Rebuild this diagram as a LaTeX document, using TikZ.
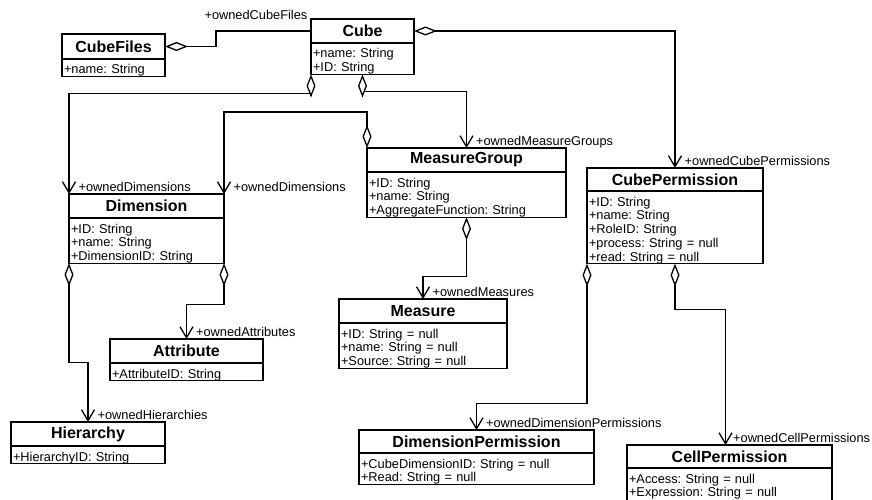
\documentclass[tikz,border=0pt]{standalone}
\usepackage{fontspec}
\setmainfont{Liberation Sans}
\usepackage{tikz}
\usetikzlibrary{positioning}
\usetikzlibrary{arrows.meta}
\frenchspacing

\begin{document}
\begin{tikzpicture}[x=1pt, y=-1pt, line width=1.3pt,
    cls/.style = {draw, rectangle, anchor=north west, inner sep=0pt, outer sep=0pt, minimum height=24pt, font=\fontsize{16}{18}\selectfont\bfseries},
    attrs/.style = {draw, rectangle, inner xsep=2pt, inner ysep=0pt, outer sep=0pt, align=left, text height=15pt, font=\fontsize{12.8}{13.75}\selectfont},
    role/.style = {inner sep=0pt, anchor=base west, xshift=9pt, yshift=3pt, font=\fontsize{12.8}{13.75}\selectfont},
    owns/.style = {{Diamond[fill=white, length=23pt, width=9pt]}-{Straight Barb[length=11pt, width=13pt]}}
    ]
    \useasboundingbox (0,0) rectangle (872,500);

    % classes
    \node[cls, minimum width=103pt, minimum height=25pt] (cubefiles) at (62,34) {CubeFiles};
    \node[attrs, text width=99pt] (cubefiles-a) [below=0pt of cubefiles] {+name: String};

    \node[cls, minimum width=103pt] (cube) at (311,19) {Cube};
    \node[attrs, text width=99pt] (cube-a) [below=0pt of cube] {+name: String\\+ID: String};

    \node[cls, minimum width=199pt] (mgroup) at (367,148) {MeasureGroup};
    \node[attrs, text width=195pt] (mgroup-a) [below=0pt of mgroup] {+ID: String\\+name: String\\+AggregateFunction: String};

    \node[cls, minimum width=176pt, minimum height=23pt] (cubeperm) at (587,168) {CubePermission};
    \node[attrs, text width=172pt] (cubeperm-a) [below=0pt of cubeperm] {+ID: String\\+name: String\\+RoleID: String\\+process: String = null\\+read: String = null};

    \node[cls, minimum width=155pt] (dim) at (69,194) {Dimension};
    \node[attrs, text width=151pt] (dim-a) [below=0pt of dim] {+ID: String\\+name: String\\+DimensionID: String};

    \node[cls, minimum width=153pt] (attr) at (110,339) {Attribute};
    \node[attrs, text width=149pt] (attr-a) [below=0pt of attr] {+AttributeID: String};

    \node[cls, minimum width=154pt] (hier) at (11,422) {Hierarchy};
    \node[attrs, text width=150pt] (hier-a) [below=0pt of hier] {+HierarchyID: String};

    \node[cls, minimum width=168pt] (measure) at (339,299) {Measure};
    \node[attrs, text width=164pt] (measure-a) [below=0pt of measure] {+ID: String = null\\+name: String = null\\+Source: String = null};

    \node[cls, minimum width=235pt, minimum height=23pt] (dimperm) at (359,430) {DimensionPermission};
    \node[attrs, text width=231pt] (dimperm-a) [below=0pt of dimperm] {+CubeDimensionID: String = null\\+Read: String = null};

    \node[cls, minimum width=205pt, minimum height=23pt] (cellperm) at (627,445) {CellPermission};
    \node[attrs, text width=201pt, text depth=24pt] (cellperm-a) [below=0pt of cellperm] {+Access: String = null\\+Expression: String = null};

    % associations
    \draw[{Diamond[fill=white, length=23pt, width=9pt]}-] (cubefiles.east) -- ++(51,0) |- (cube.west)
        node[inner sep=0pt, anchor=base east, xshift=-3pt, yshift=11pt, font=\fontsize{12.8}{13.75}\selectfont] {+ownedCubeFiles};
    \draw[owns] (cube.east) -| (cubeperm.north) node[role] {+ownedCubePermissions};
    \draw[owns] (cube-a.south west) -- ++(0,19) -| (dim.north west) node[role] {+ownedDimensions};
    \draw[owns] (cube-a.south) -- ++(0,17) -| (mgroup.north) node[role] {+ownedMeasureGroups};
    \draw[owns] (mgroup.north west) -- ++(0,-36) -| (dim.north east) node[role] {+ownedDimensions};
    \draw[owns] (mgroup-a.south) -- ++(0,59) -| (measure.north) node[role] {+ownedMeasures};
    \draw[owns] (dim-a.south east) -- ++(0,41) -| (attr.north) node[role] {+ownedAttributes};
    \draw[owns] (dim-a.south west) -- ++(0,99) -| (hier.north) node[role] {+ownedHierarchies};
    \draw[owns] (cubeperm-a.south west) -- ++(0,140) -| (dimperm.north) node[role] {+ownedDimensionPermissions};
    \draw[owns] (cubeperm-a.south) -- ++(0,46) -| ([xshift=-4pt]cellperm.north) node[role, xshift=-2pt] {+ownedCellPermissions};
\end{tikzpicture}
\end{document}
